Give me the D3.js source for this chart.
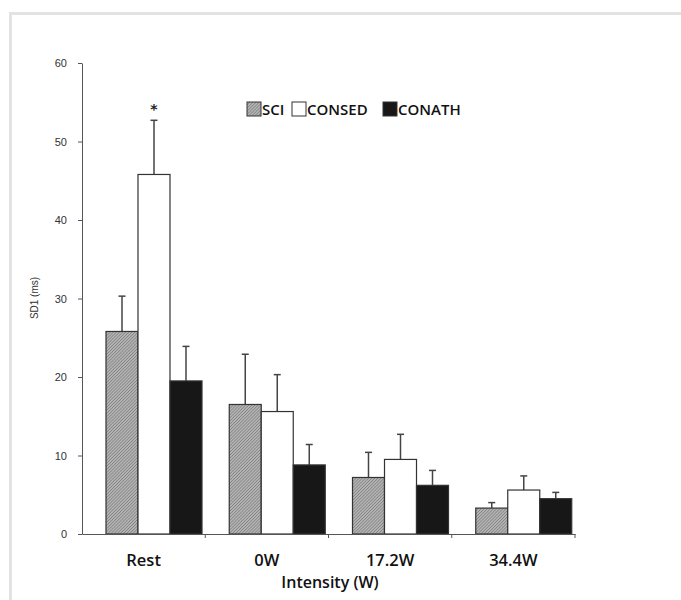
<!DOCTYPE html>
<html>
<head>
<meta charset="utf-8">
<script src="https://cdn.jsdelivr.net/npm/d3@7"></script>
<style>
  body { margin: 0; background: #fff; }
</style>
</head>
<body>
<div class="plot"></div>
<script>

// chart values
const categories = ["Rest", "0W", "17.2W", "34.4W"];
const groups = ["SCI", "CONSED", "CONATH"];
const sciMean = [25.8, 16.5, 7.2, 3.3];
const sciSD = [4.5, 6.4, 3.2, 0.7];
const consedMean = [45.8, 15.6, 9.5, 5.6];
const consedSD = [6.9, 4.7, 3.2, 1.8];
const conathMean = [19.5, 8.8, 6.2, 4.5];
const conathSD = [4.4, 2.6, 1.9, 0.8];
const yTicks = [0, 10, 20, 30, 40, 50, 60];

document.addEventListener('DOMContentLoaded', () => {

  const width = 681, height = 600;
  const left = 82, right = 575, top = 63, bottom = 534;

  const svg = d3.select('.plot').append('svg')
    .attr('width', width)
    .attr('height', height);

  // fine hatch for SCI
  const defs = svg.append('defs');
  const pat = defs.append('pattern')
    .attr('id', 'hatch')
    .attr('patternUnits', 'userSpaceOnUse')
    .attr('width', 2.2).attr('height', 2.2)
    .attr('patternTransform', 'rotate(45)');
  pat.append('rect').attr('width', 2.2).attr('height', 2.2).attr('fill', '#b4b4b4');
  pat.append('line').attr('x1', 0).attr('y1', 0).attr('x2', 0).attr('y2', 2.2)
    .attr('stroke', '#606060').attr('stroke-width', 0.9);

  // outer frame
  svg.append('rect')
    .attr('x', 10.5).attr('y', 13.5)
    .attr('width', 700).attr('height', 620)
    .attr('fill', 'none')
    .attr('stroke', '#e3e3e3')
    .attr('stroke-width', 3);

  const xScale = d3.scaleBand().domain(categories).range([left, right]);
  const yScale = d3.scaleLinear().domain([0, 60]).range([bottom, top]);

  const data = [];
  categories.forEach((c, i) => {
    data.push({cat: c, grp: "SCI", mean: sciMean[i], sd: sciSD[i]});
    data.push({cat: c, grp: "CONSED", mean: consedMean[i], sd: consedSD[i]});
    data.push({cat: c, grp: "CONATH", mean: conathMean[i], sd: conathSD[i]});
  });

  const barW = 32;
  const offset = 24;
  const barX = d => xScale(d.cat) + offset + groups.indexOf(d.grp) * barW;
  const fills = {SCI: 'url(#hatch)', CONSED: '#ffffff', CONATH: '#171717'};

  // error bars first, bars on top
  const err = svg.append('g');
  data.forEach(d => {
    const cx = barX(d) + barW / 2;
    err.append('line')
      .attr('x1', cx).attr('x2', cx)
      .attr('y1', yScale(d.mean)).attr('y2', yScale(d.mean + d.sd))
      .attr('stroke', '#444').attr('stroke-width', 1.5);
    err.append('line')
      .attr('x1', cx - 3.5).attr('x2', cx + 3.5)
      .attr('y1', yScale(d.mean + d.sd)).attr('y2', yScale(d.mean + d.sd))
      .attr('stroke', '#444').attr('stroke-width', 1.5);
  });

  svg.append('g').selectAll('rect')
    .data(data)
    .enter()
    .append('rect')
    .attr('x', barX)
    .attr('y', d => yScale(d.mean))
    .attr('width', barW)
    .attr('height', d => yScale(0) - yScale(d.mean))
    .attr('fill', d => fills[d.grp])
    .attr('stroke', '#333')
    .attr('stroke-width', 1.2);

  // y axis
  const yAxis = svg.append('g')
    .attr('transform', `translate(${left},0)`)
    .call(d3.axisLeft(yScale).tickValues(yTicks).tickSize(4).tickSizeOuter(0));
  yAxis.select('.domain').attr('stroke', '#555');
  yAxis.selectAll('.tick line').attr('stroke', '#555');
  yAxis.selectAll('text')
    .attr('font-family', 'Liberation Sans, Arial, sans-serif')
    .attr('font-size', 11)
    .attr('fill', '#333')
    .attr('dx', -8);

  // x axis
  const xAxis = svg.append('g')
    .attr('transform', `translate(0,${bottom})`)
    .call(d3.axisBottom(xScale).tickSize(0).tickFormat(''));
  xAxis.select('.domain').attr('stroke', '#555');
  xAxis.selectAll('.tick').remove();
  categories.forEach(c => {
    const xt = xScale(c) + xScale.bandwidth();
    xAxis.append('line')
      .attr('x1', xt).attr('x2', xt).attr('y1', 0).attr('y2', 4)
      .attr('stroke', '#555');
  });

  svg.append('g').selectAll('text')
    .data(categories)
    .enter()
    .append('text')
    .attr('x', d => xScale(d) + xScale.bandwidth() / 2)
    .attr('y', 566)
    .attr('text-anchor', 'middle')
    .attr('font-family', 'Open Sans, sans-serif')
    .attr('font-weight', 600)
    .attr('font-size', 16.5)
    .attr('fill', '#111')
    .text(d => d);

  // axis titles
  svg.append('text')
    .attr('x', 330).attr('y', 588)
    .attr('text-anchor', 'middle')
    .attr('font-family', 'Open Sans, sans-serif')
    .attr('font-weight', 600)
    .attr('font-size', 16)
    .attr('fill', '#111')
    .text('Intensity (W)');

  svg.append('text')
    .attr('transform', 'rotate(-90)')
    .attr('x', -298).attr('y', 38)
    .attr('text-anchor', 'middle')
    .attr('font-family', 'Liberation Sans, Arial, sans-serif')
    .attr('font-size', 10)
    .attr('fill', '#333')
    .text('SD1 (ms)');

  // significance star
  const star = data.find(d => d.cat === "Rest" && d.grp === "CONSED");
  svg.append('text')
    .attr('x', barX(star) + barW / 2)
    .attr('y', yScale(star.mean + star.sd) - 6)
    .attr('text-anchor', 'middle')
    .attr('font-family', 'DejaVu Sans, sans-serif')
    .attr('font-weight', 'bold')
    .attr('font-size', 14)
    .attr('fill', '#222')
    .text('*');

  // legend
  const legendX = [247, 292, 383];
  const legend = svg.append('g');
  groups.forEach((g, i) => {
    legend.append('rect')
      .attr('x', legendX[i]).attr('y', 102)
      .attr('width', 14).attr('height', 14)
      .attr('fill', fills[g])
      .attr('stroke', '#333')
      .attr('stroke-width', 1);
    legend.append('text')
      .attr('x', legendX[i] + 15).attr('y', 115)
      .attr('font-family', 'Open Sans, sans-serif')
      .attr('font-weight', 600)
      .attr('font-size', 15)
      .attr('fill', '#111')
      .text(g);
  });
});
</script>
</body>
</html>
